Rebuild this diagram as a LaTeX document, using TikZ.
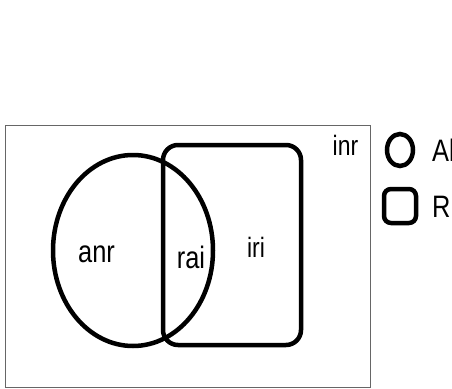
\documentclass[tikz,border=0pt]{standalone}
\usepackage{fontspec}
\setmainfont{Liberation Sans}[FakeStretch=0.82]
\usepackage{tikz}

\begin{document}
\begin{tikzpicture}[x=1pt, y=-1pt]
				\tikzset{setline/.style={line width=4.5pt}, biglabel/.style={font=\fontsize{31}{31}\selectfont, anchor=base}, smalllabel/.style={font=\fontsize{28}{28}\selectfont, anchor=base}};
				\useasboundingbox (0, 0) rectangle (452, 388);
				
				%Universe
				\draw[gray!80!black, line width=1pt] (5.5, 125.5) rectangle (370, 387);
				
				%Sets
				\draw[setline] (133, 250.5) ellipse (80 and 95.5);
				\draw[setline, rounded corners=15pt] (163, 145) rectangle (301, 345);
				
				%Regions
				\node[biglabel] (anr) at (96.5, 262) {anr};
				\node[biglabel] (rai) at (191, 268) {rai};
				\node[smalllabel] (iri) at (256, 257) {iri};
				\node[smalllabel] (inr) at (345.5, 155) {inr};
				
				%Legend
				\draw[setline] (400, 150) ellipse (13 and 16);
				\draw[setline, rounded corners=7pt] (384, 189) rectangle (416, 223);
				\node[biglabel, anchor=base west, inner sep=0pt] (al) at (432, 161) {Al};
				\node[biglabel, anchor=base west, inner sep=0pt] (rl) at (432, 217) {Rl};
			\end{tikzpicture}
\end{document}
